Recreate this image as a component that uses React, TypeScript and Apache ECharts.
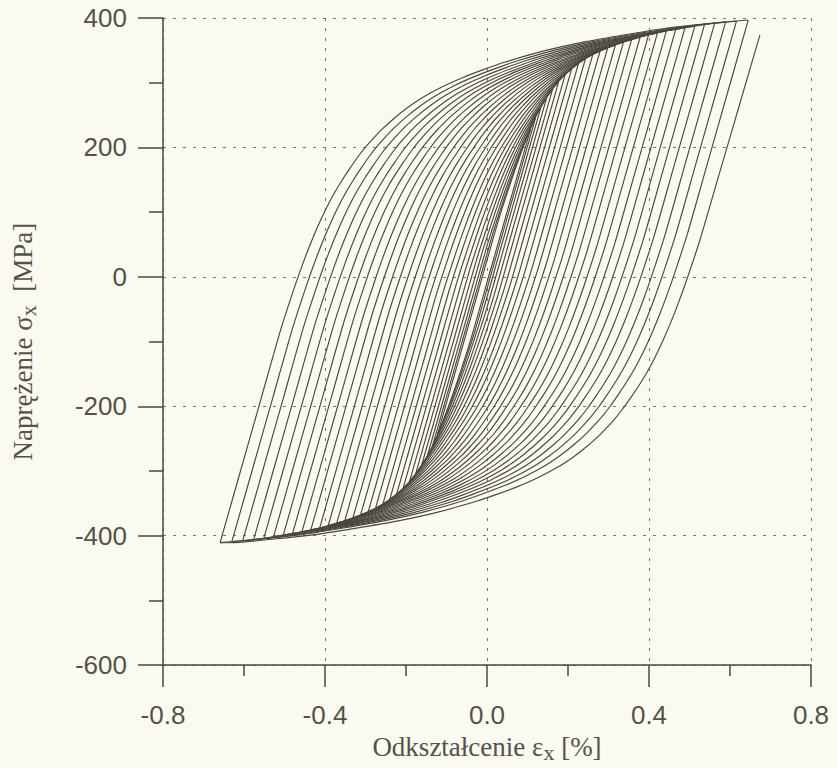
import React, { useEffect, useRef } from "react";
import * as echarts from "echarts";

// Axis ranges / ticks
const xMin = -0.8;
const xMax = 0.8;
const xStep = 0.4;
const yMin = -600;
const yMax = 400;
const yStep = 200;

// Master hysteresis branch read from the outer loop:
// strain range from the reversal point [%] and stress range [MPa]
const branchStrain = [0, 0.05, 0.1, 0.15, 0.18, 0.2, 0.22, 0.24, 0.26, 0.28, 0.3, 0.32, 0.34, 0.36, 0.38, 0.4, 0.43, 0.46, 0.5, 0.55, 0.6, 0.65, 0.7, 0.8, 0.9, 1.0, 1.1, 1.2, 1.31];
const branchStress = [0, 110, 220, 330, 388, 424, 457, 487, 514, 538, 559, 578, 596, 612, 626, 639, 656, 671, 688, 705, 719, 731, 742, 760, 774, 785, 795, 802, 808];

// Strain amplitudes of the nested loops [%]
const loopAmplitude = [
  0.115, 0.127, 0.14, 0.154, 0.169, 0.184, 0.2, 0.216, 0.233, 0.25, 0.268, 0.286, 0.305, 0.324,
  0.344, 0.364, 0.385, 0.406, 0.428, 0.45, 0.473, 0.496, 0.52, 0.544, 0.569, 0.596, 0.623, 0.652,
];

// Loop centre [%, MPa]
const loopCenter = [-0.007, -7];

// Final separate descending branch: start and end points [%, MPa]
const lastBranchStart = [0.674, 374];
const lastBranchEnd = [-0.659, -411];

const INK = "#4b473e";
const TEXT = "#54514a";
const GRID = "#77746b";

function g(d: number): number {
  for (let i = 1; i < branchStrain.length; i++) {
    if (d <= branchStrain[i]) {
      const t = (d - branchStrain[i - 1]) / (branchStrain[i] - branchStrain[i - 1]);
      return branchStress[i - 1] + t * (branchStress[i] - branchStress[i - 1]);
    }
  }
  return branchStress[branchStress.length - 1];
}

// Branch from a reversal point following the master curve, scaled to land on the end point
function branchTo(sx: number, sy: number, ex: number, ey: number): number[][] {
  const dir = ex > sx ? 1 : -1;
  const range = Math.abs(ex - sx);
  const k = Math.abs(ey - sy) / g(range);
  const pts: number[][] = [];
  for (let i = 0; i < branchStrain.length; i++) {
    if (branchStrain[i] < range - 0.008) {
      pts.push([sx + dir * branchStrain[i], sy + dir * branchStress[i] * k]);
    }
  }
  pts.push([ex, ey]);
  return pts;
}

export default function App() {
  const ref = useRef<HTMLDivElement>(null);
  useEffect(() => {
    if (!ref.current) return;
    const chart = echarts.init(ref.current, undefined, { renderer: "svg" });
    const series: any[] = [];
    const lineCommon = {
      type: "line",
      showSymbol: false,
      symbol: "none",
      smooth: 0.25,
      silent: true,
      lineStyle: { color: INK, width: 1.15 },
      z: 3,
    };
    loopAmplitude.forEach((a) => {
      const sa = g(2 * a) / 2;
      const lx = loopCenter[0] - a;
      const ly = loopCenter[1] - sa;
      const ux = loopCenter[0] + a;
      const uy = loopCenter[1] + sa;
      series.push({ ...lineCommon, data: branchTo(lx, ly, ux, uy) });
      series.push({ ...lineCommon, data: branchTo(ux, uy, lx, ly) });
    });
    series.push({
      ...lineCommon,
      data: branchTo(lastBranchStart[0], lastBranchStart[1], lastBranchEnd[0], lastBranchEnd[1]),
    });

    const axisLineStyle = { color: INK, width: 1.5 };
    const richName = (size: number) => ({
      t: { fontFamily: "Liberation Serif", fontSize: size, color: TEXT, lineHeight: 30, verticalAlign: "top" },
      s: { fontFamily: "Liberation Serif", fontSize: size - 5, color: TEXT, lineHeight: 14, verticalAlign: "bottom" },
    });

    chart.setOption({
      animation: false,
      backgroundColor: "#fbfaf1",
      grid: { left: 163, right: 26, top: 18, bottom: 100, containLabel: false },
      xAxis: {
        type: "value",
        min: xMin,
        max: xMax,
        interval: xStep,
        name: "{t|Odkształcenie ε}{s|x}{t| [%]}",
        nameLocation: "middle",
        nameGap: 62,
        nameTextStyle: { rich: richName(27) },
        axisLine: { show: true, onZero: false, lineStyle: axisLineStyle },
        axisTick: { show: true, length: 22, lineStyle: axisLineStyle },
        minorTick: { show: true, splitNumber: 2, length: 11, lineStyle: axisLineStyle },
        axisLabel: {
          fontFamily: "Liberation Sans",
          fontSize: 26,
          color: TEXT,
          margin: 37,
          formatter: (v: number) => v.toFixed(1),
        },
        splitLine: { show: true, lineStyle: { type: [3, 7], color: GRID, width: 1 } },
        minorSplitLine: { show: false },
      },
      yAxis: {
        type: "value",
        min: yMin,
        max: yMax,
        interval: yStep,
        name: "{t|Naprężenie σ}{s|x}{t|  [MPa]}",
        nameLocation: "middle",
        nameGap: 124,
        nameTextStyle: { rich: richName(27) },
        axisLine: { show: true, onZero: false, lineStyle: axisLineStyle },
        axisTick: { show: true, length: 25, lineStyle: axisLineStyle },
        minorTick: { show: true, splitNumber: 2, length: 14, lineStyle: axisLineStyle },
        axisLabel: {
          fontFamily: "Liberation Sans",
          fontSize: 26,
          color: TEXT,
          margin: 36,
        },
        splitLine: { show: true, lineStyle: { type: [3, 7], color: GRID, width: 1 } },
      },
      series,
    });
    return () => chart.dispose();
  }, []);
  return (
    <div
      ref={ref}
      style={{ position: "fixed", left: 0, top: 0, width: 837, height: 768, background: "#fbfaf1" }}
    />
  );
}
